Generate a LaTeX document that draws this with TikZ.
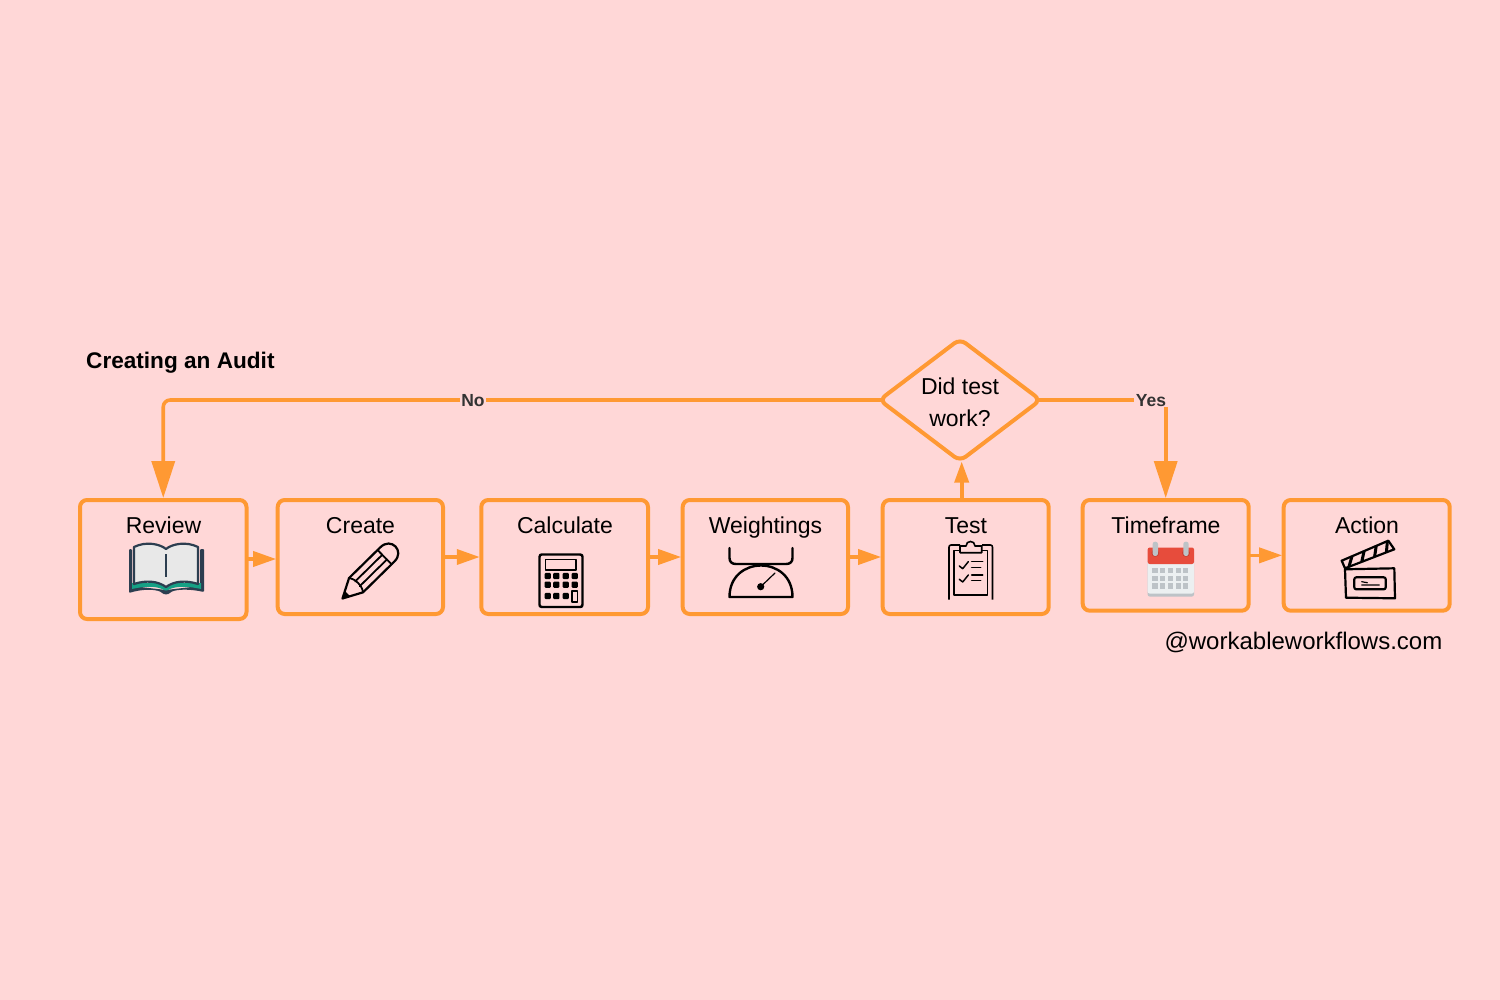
\documentclass[tikz,border=0pt]{standalone}
\usepackage{fontspec}
\setmainfont{Liberation Sans}
\usetikzlibrary{arrows.meta,shapes.geometric,calc}
\definecolor{bgpink}{HTML}{FFD7D7}
\definecolor{flowor}{HTML}{FF9933}
\definecolor{bknavy}{HTML}{2C3E50}
\definecolor{bkteal}{HTML}{16A085}
\definecolor{bkpage}{HTML}{E8E8E8}
\definecolor{calred}{HTML}{E74C3C}
\definecolor{caldred}{HTML}{C0392B}
\definecolor{calbody}{HTML}{ECF0F1}
\definecolor{calgray}{HTML}{BDC3C7}
\tikzset{
  box/.style={draw=flowor,line width=4pt,rounded corners=7pt,inner sep=0pt,outer sep=0pt},
  lbl/.style={font=\fontsize{23}{27}\selectfont,text=black,inner sep=0pt,text height=16pt,text depth=5pt},
  flow/.style={draw=flowor,line width=3.6pt},
  smalltip/.style={-{Triangle[length=23pt,width=15pt]}},
  bigtip/.style={-{Triangle[length=37pt,width=23pt]}},
  edgelbl/.style={font=\fontsize{17.5}{20}\bfseries\selectfont,text=black!80,fill=bgpink,inner xsep=1.5pt,inner ysep=0pt},
  ico/.style={draw=black,line width=2.4pt,line join=round,line cap=round},
  icothin/.style={draw=black,line width=1.6pt,line join=round,line cap=round},
}
\begin{document}
\begin{tikzpicture}[x=1pt,y=-1pt]
\useasboundingbox[fill=bgpink] (0,0) rectangle (1500,1000);

% boxes
\node[box,minimum width=166.5pt,minimum height=119pt] (review) at (163.25,559.5) {};
\node[box,minimum width=165.3pt,minimum height=114pt] (create) at (360.35,557) {};
\node[box,minimum width=166.7pt,minimum height=114pt] (calc) at (564.65,557) {};
\node[box,minimum width=165.3pt,minimum height=114pt] (weight) at (765.35,557) {};
\node[box,minimum width=166pt,minimum height=114pt] (test) at (965.7,557) {};
\node[box,minimum width=166pt,minimum height=110.7pt] (time) at (1165.7,555.35) {};
\node[box,minimum width=166pt,minimum height=110.7pt] (action) at (1366.7,555.35) {};
\node[draw=flowor,line width=4pt,rounded corners=7pt,diamond,aspect=1.32,minimum width=161pt,minimum height=122pt,inner sep=0pt,outer sep=0pt,align=center,font=\fontsize{23}{32}\selectfont] (dia) at (960,400) {\rule{0pt}{21pt}Did test\\work?};

% labels
\node[lbl] (lreview) at (163.5,527.5) {Review};
\node[lbl] (lcreate) at (360.5,527.5) {Create};
\node[lbl] (lcalc) at (565,527.5) {Calculate};
\node[lbl] (lweight) at (765.5,527.5) {Weightings};
\node[lbl] (ltest) at (966,527.5) {Test};
\node[lbl] (ltime) at (1166,527.5) {Timeframe};
\node[lbl] (laction) at (1367,527.5) {Action};
\node[anchor=west,inner sep=0pt,font=\fontsize{22.6}{27}\bfseries\selectfont] (title) at (86,362.5) {Creating an Audit};
\node[anchor=east,inner sep=0pt,font=\fontsize{24}{28}\selectfont] (foot) at (1442.5,642.5) {@workableworkflows.com};

% connectors
\draw[flow,smalltip,shorten >=1.5pt] ([yshift=0.5pt]review.east) -- ([yshift=0.5pt]review.east -| create.west);
\draw[flow,smalltip,shorten >=1.5pt] (create.east) -- (calc.west);
\draw[flow,smalltip,shorten >=1.5pt] (calc.east) -- (weight.west);
\draw[flow,smalltip,shorten >=1.5pt] (weight.east) -- (test.west);
\draw[flow,smalltip,shorten >=1.5pt] (time.east) -- (action.west);
\draw[flow,-{Triangle[length=21pt,width=14pt]},shorten >=0.5pt] ([xshift=1.7pt]dia.south |- test.north) -- ([xshift=1.7pt]dia.south);
\draw[flow,bigtip,rounded corners=7pt,shorten >=2pt,shorten <=-5pt] (dia.west) -- (dia.west -| review.north) -- (review.north);
\draw[flow,bigtip,shorten >=2pt,shorten <=-5pt] (dia.east) -- (dia.east -| time.north) -- (time.north);
\node[edgelbl] (no) at (473,400.5) {No};
\node[edgelbl] (yes) at (1151,400.5) {Yes};

% book
\fill[bknavy,rounded corners=1pt] (129,549) -- (132,549) -- (132,586) -- (166,590) -- (200,586) -- (200,549) -- (204,549) -- (204,592) .. controls (190,589) and (178,589) .. (171,592) .. controls (168,595) and (164,595) .. (161,592) .. controls (154,589) and (142,589) .. (129,593) -- cycle;
\fill[bkteal] (132,583) -- (132,589) .. controls (145,586) and (155,586) .. (162,589) .. controls (165,591) and (167,591) .. (170,589) .. controls (177,586) and (188,586) .. (201,589) -- (201,583) -- cycle;
\draw[bknavy,fill=bkpage,line width=2.2pt,line join=round] (166,549) .. controls (160,544) and (146,541) .. (134,547) -- (134,584) .. controls (146,580) and (158,581) .. (166,587) .. controls (174,581) and (186,580) .. (198,584) -- (198,547) .. controls (186,541) and (172,544) .. (166,549) -- cycle;
\draw[bknavy,line width=2.8pt] (166,554) -- (166,577);

% pencil
\begin{scope}[shift={(342.5,598.5)},rotate=44.5]
\draw[ico,line width=2.2pt] (0,0) -- (19,-10) -- (63,-10) .. controls (78,-10) and (78,10) .. (63,10) -- (19,10) -- cycle;
\fill[black] (0,0) -- (7,-4) -- (7,4) -- cycle;
\draw[ico,line width=1.8pt] (19,-10) .. controls (23,-5) and (23,5) .. (19,10);
\draw[ico,line width=1.8pt] (21,-3.3) -- (59,-3.3) (21,3.3) -- (59,3.3);
\draw[ico,line width=1.8pt] (59,-10) -- (59,10);
\end{scope}

% calculator
\draw[ico] (539.5,557) .. controls (539.5,555) and (540.5,554.5) .. (542,554.5) -- (580,554.5) .. controls (582,554.5) and (582.5,555.5) .. (582.5,557) -- (582.5,604.5) .. controls (582.5,606.5) and (581.5,607) .. (580,607) -- (542,607) .. controls (540,607) and (539.5,606) .. (539.5,604.5) -- cycle;
\draw[icothin,line width=1.8pt] (545.5,559.5) rectangle (576,570);
\foreach \bx in {547.7,556.3,565.7,574.7}{
  \foreach \by in {576,584.7}{\fill[black,rounded corners=1pt] (\bx-3.1,\by-3.1) rectangle (\bx+3.1,\by+3.1);}
}
\foreach \bx in {547.7,556.3,565.7}{\fill[black,rounded corners=1pt] (\bx-3.1,596-3.1) rectangle (\bx+3.1,596+3.1);}
\draw[icothin] (572,591) rectangle (577.5,602);

% scale
\draw[ico] (729.5,548) -- (729.5,558) .. controls (729.5,562) and (732,564) .. (736,564) -- (786,564) .. controls (790,564) and (792.5,562) .. (792.5,558) -- (792.5,548);
\draw[ico,line cap=butt] (729.5,597) .. controls (729.5,555) and (792.5,555) .. (792.5,597) -- cycle;
\fill[black] (760.7,586.7) circle[radius=3.6];
\draw[icothin,line width=1.2pt] (760.7,586.7) -- (775,573);

% clipboard
\draw[icothin,line cap=butt] (949,599.5) -- (949,547.5) .. controls (949,546) and (949.5,545) .. (951,545) -- (960,545) (982,545) -- (990.5,545) .. controls (992,545) and (992.5,546) .. (992.5,547.5) -- (992.5,599.5);
\draw[icothin,line cap=butt] (960,550.5) -- (954,550.5) -- (954,595) -- (987.5,595) -- (987.5,550.5) -- (982,550.5);
\draw[icothin] (960,546) -- (966,546) .. controls (966,540) and (975,540) .. (975,546) -- (981.7,546) -- (981.7,552.7) -- (960,552.7) -- cycle;
\foreach \cy in {0,13.3}{
  \draw[icothin,line width=1.5pt] (959.3,566+\cy) -- (962.7,568.7+\cy) -- (968.3,561.7+\cy);
  \draw[icothin,line width=1.5pt] (971.7,561.5+\cy) -- (982.7,561.5+\cy) (971.7,567.3+\cy) -- (980.7,567.3+\cy);
}

% calendar
\fill[calgray,rounded corners=2pt] (1147.7,560) rectangle (1194,596.5);
\fill[calbody,rounded corners=2pt] (1147.7,560) rectangle (1194,593.5);
\fill[calred,rounded corners=2pt] (1147.7,547.5) -- (1194,547.5) -- (1194,564) -- (1147.7,564) -- cycle;
\fill[caldred] (1155.3,553) circle[radius=3.8] (1186,553) circle[radius=3.8];
\fill[calgray,rounded corners=2.4pt] (1152.6,541.7) rectangle (1158,556) (1183.3,541.7) rectangle (1188.7,556);
\foreach \gx in {1155,1162.7,1170.4,1178.1,1185.8}{
  \foreach \gy in {570.7,578.4,586}{\fill[calgray] (\gx-2.6,\gy-2.6) rectangle (\gx+2.6,\gy+2.6);}
}

% clapperboard
\draw[ico,line width=2.2pt] (1341.7,560.7) -- (1388.3,540.7) -- (1394.3,549.3) -- (1345,568.3) -- cycle;
\foreach \sa in {0.16,0.42,0.68,0.92}{
  \draw[black,line width=3pt] ($(1341.7,560.7)!\sa+0.06!(1388.3,540.7)$) -- ($(1345,568.3)!\sa-0.08!(1394.3,549.3)$);
}
\draw[ico,line width=2.2pt] (1345,569.3) -- (1394.3,568.3) -- (1395,598.3) -- (1346,597.7) -- cycle;
\draw[ico,line width=2.2pt,rounded corners=2pt] (1354.3,577.3) rectangle (1385.7,589.3);
\draw[icothin,line width=1.2pt] (1361.7,581.7) -- (1367.3,582.7) (1361.7,585) -- (1379.3,585);
\end{tikzpicture}
\end{document}
